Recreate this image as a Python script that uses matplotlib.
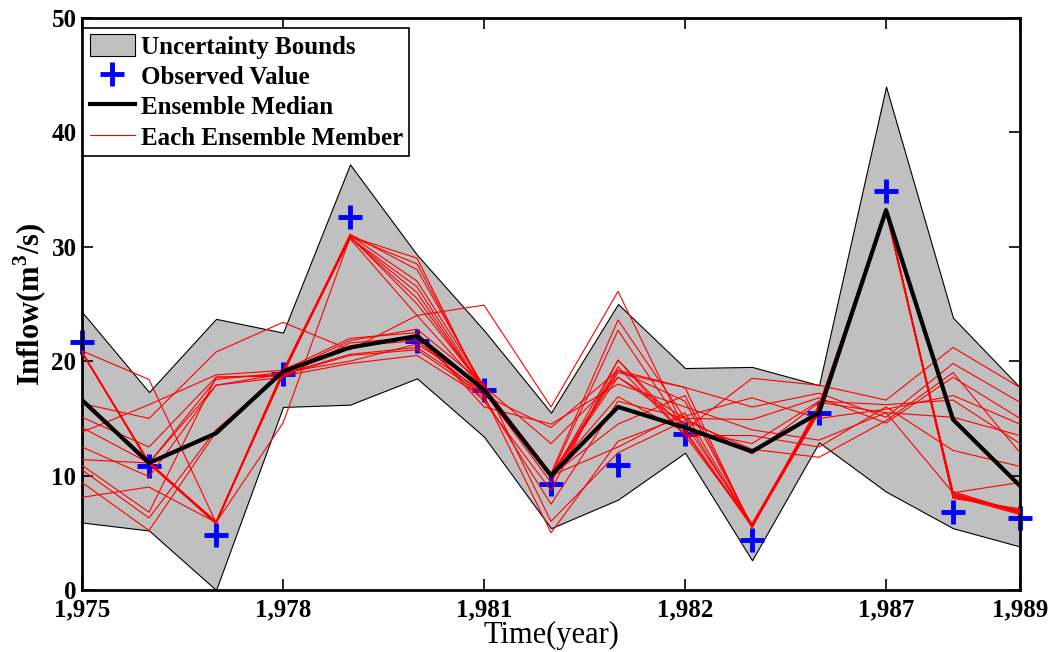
import numpy as np
import matplotlib
matplotlib.use('Agg')
import matplotlib.pyplot as plt
from matplotlib.patches import Patch
from matplotlib.lines import Line2D

plt.rcParams['font.family'] = ['Liberation Serif', 'DejaVu Serif']
plt.rcParams['mathtext.fontset'] = 'custom'
plt.rcParams['mathtext.rm'] = 'Liberation Serif:bold'
plt.rcParams['mathtext.bf'] = 'Liberation Serif:bold'

# time steps (15 values), tick labels as printed on the original
steps = np.arange(15)
tick_pos = [0, 3, 6, 9, 12, 14]
tick_labels = ['1,975', '1,978', '1,981', '1,982', '1,987', '1,989']

observed = [21.7, 10.8, 4.8, 18.9, 32.6, 21.8, 17.5, 9.3, 10.9, 13.6, 4.4, 15.5, 34.9, 6.8, 6.3]
median = [16.6, 11.1, 13.7, 19.1, 21.2, 22.2, 17.5, 10.0, 16.0, 14.2, 12.1, 15.5, 33.2, 14.9, 9.1]
upper = [24.3, 17.3, 23.7, 22.5, 37.2, 29.3, 22.7, 15.5, 25.0, 19.4, 19.5, 17.9, 44.0, 23.8, 17.7]
lower = [5.9, 5.2, 0.0, 16.0, 16.2, 18.5, 13.4, 5.4, 7.9, 12.0, 2.6, 12.9, 8.6, 5.4, 3.8]

members = [
    [20.8, 11.1, 5.9, 19.0, 30.9, 28.5, 17.5, 10.0, 22.7, 14.0, 5.6, 15.8, 33.3, 8.3, 6.8],
    [20.8, 11.1, 5.9, 19.2, 31.0, 27.0, 17.8, 10.2, 23.6, 15.0, 5.5, 15.6, 33.2, 8.5, 6.7],
    [20.8, 11.0, 5.8, 18.9, 30.8, 26.0, 17.4, 9.8, 20.1, 13.5, 5.7, 16.0, 33.4, 8.1, 7.0],
    [20.8, 11.2, 5.9, 19.1, 30.9, 25.0, 17.6, 10.1, 19.2, 16.5, 5.6, 15.5, 33.3, 8.4, 6.9],
    [20.7, 11.1, 6.0, 19.0, 30.7, 24.0, 17.5, 9.9, 19.0, 17.7, 5.4, 16.2, 33.1, 8.2, 6.6],
    [20.8, 11.1, 5.9, 18.8, 31.1, 28.0, 17.7, 10.0, 18.6, 14.5, 5.8, 15.9, 33.2, 8.6, 6.8],
    [20.9, 18.4, 5.9, 19.0, 30.9, 29.0, 17.3, 10.1, 16.9, 13.8, 5.5, 15.7, 33.3, 8.0, 7.1],
    [20.8, 11.1, 5.8, 19.1, 30.8, 26.5, 17.5, 10.0, 12.5, 15.5, 5.6, 16.1, 33.0, 8.3, 6.7],
    [16.3, 15.0, 20.8, 23.4, 21.0, 24.0, 24.9, 16.0, 26.1, 14.0, 18.5, 17.9, 16.6, 21.2, 17.7],
    [15.1, 12.5, 18.6, 18.8, 20.5, 21.0, 17.0, 14.2, 19.2, 17.7, 16.0, 17.2, 15.1, 19.8, 16.4],
    [14.2, 11.1, 18.4, 19.0, 20.0, 21.5, 17.8, 12.8, 18.6, 15.0, 14.9, 16.8, 14.6, 18.6, 15.0],
    [12.5, 9.9, 17.9, 18.6, 21.6, 22.1, 16.5, 8.7, 20.1, 14.0, 12.8, 16.5, 16.2, 16.6, 12.8],
    [13.8, 16.2, 18.8, 19.2, 22.0, 22.5, 16.0, 14.5, 18.0, 16.0, 14.0, 13.1, 15.5, 15.1, 13.5],
    [11.4, 11.1, 17.9, 18.9, 20.6, 21.2, 17.3, 9.4, 19.5, 13.5, 13.5, 12.5, 16.0, 12.2, 10.8],
    [10.9, 6.8, 18.6, 18.7, 19.8, 20.5, 16.8, 7.5, 16.5, 15.0, 11.9, 16.4, 15.5, 8.5, 9.4],
    [10.5, 6.3, 14.0, 19.0, 21.8, 22.8, 18.0, 6.0, 12.0, 14.8, 12.3, 11.6, 14.8, 19.0, 12.0],
    [9.4, 5.2, 13.8, 19.3, 21.3, 21.8, 17.0, 5.0, 13.0, 15.2, 16.8, 15.0, 15.8, 17.0, 14.5],
    [8.1, 9.0, 5.9, 14.6, 30.8, 25.5, 17.5, 10.0, 14.5, 17.0, 5.6, 16.0, 33.3, 8.3, 6.8],
]

fig = plt.figure(figsize=(10.53, 6.52), dpi=100)
ax = fig.add_axes([0.0779, 0.0951, 0.8908, 0.8773])

ax.fill_between(steps, lower, upper, facecolor='#c0c0c0', edgecolor='black', linewidth=0.8, zorder=1)
ax.plot(steps, observed, '+', color='blue', markersize=17, markeredgewidth=3.5,
        linestyle='none', zorder=2, clip_on=False)
for m in members:
    ax.plot(steps, m, color='red', linewidth=0.8, zorder=3)
ax.plot(steps, median, color='black', linewidth=3, zorder=4)

ax.set_xlim(0, 14)
ax.set_ylim(0, 50)
ax.set_xticks(tick_pos)
ax.set_xticklabels(tick_labels)
ax.set_yticks([0, 10, 20, 30, 40, 50])
ax.tick_params(direction='in', top=True, right=True, length=8, width=1.2,
               labelsize=18)
ax.tick_params(axis='x', pad=6)
ax.tick_params(axis='y', pad=4)
for lab in ax.get_xticklabels() + ax.get_yticklabels():
    lab.set_fontweight('bold')
for s in ax.spines.values():
    s.set_linewidth(2)

ax.set_xlabel('Time(year)', fontsize=22, labelpad=0)
ax.set_ylabel(r'Inflow(m$^{\mathbf{3}}$/s)', fontsize=22, fontweight='bold', labelpad=2)

handles = [
    Patch(facecolor='#c0c0c0', edgecolor='black', linewidth=0.8, label='Uncertainty Bounds'),
    Line2D([], [], marker='+', color='blue', markersize=17, markeredgewidth=3.5, linestyle='none', label='Observed Value'),
    Line2D([], [], color='black', linewidth=3, label='Ensemble Median'),
    Line2D([], [], color='red', linewidth=0.8, label='Each Ensemble Member'),
]
leg = ax.legend(handles=handles, loc='upper left', bbox_to_anchor=(0.0, 0.985),
                prop={'family': 'Liberation Serif', 'weight': 'bold', 'size': 18},
                frameon=True, fancybox=False, edgecolor='black', framealpha=1,
                borderpad=0.25, labelspacing=0.22, handlelength=1.8, handleheight=1.0,
                handletextpad=0.25, borderaxespad=0.05)
leg.get_frame().set_linewidth(1.2)

fig.savefig('out.png', dpi=100)
